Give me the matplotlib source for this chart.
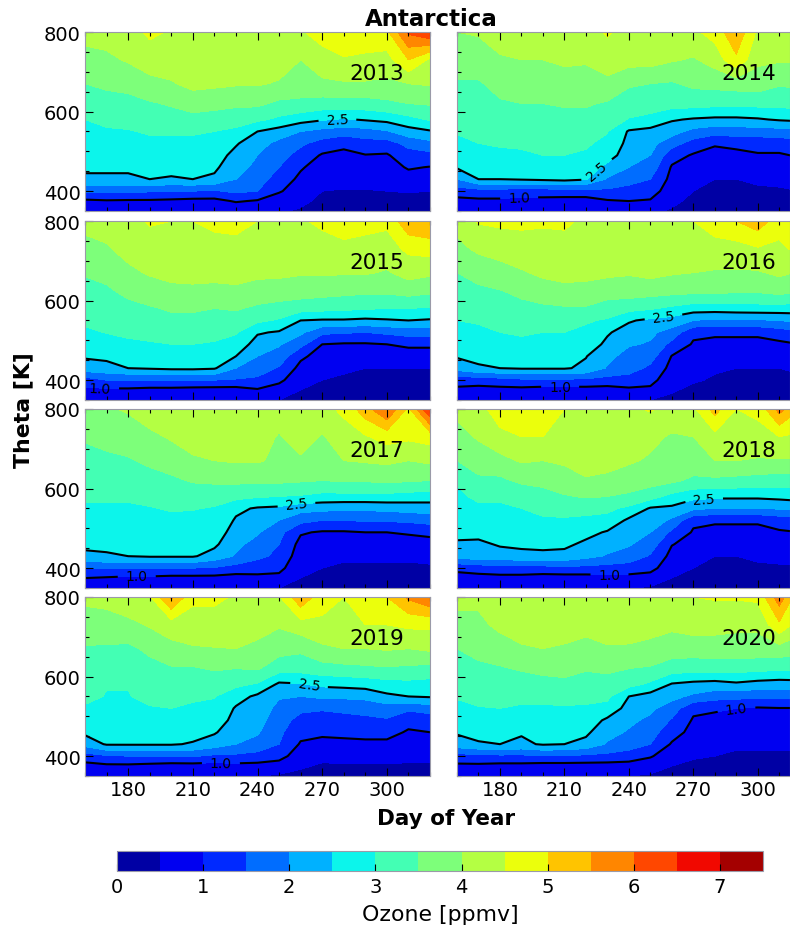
import numpy as np
import matplotlib
matplotlib.use("Agg")
import matplotlib.pyplot as plt
from matplotlib.ticker import MultipleLocator

days = [160, 170, 180, 190, 200, 210, 220, 230, 240, 250, 260, 270, 280, 290, 300, 310, 320]
theta = [350, 375, 400, 430, 460, 490, 520, 550, 580, 620, 670, 730, 800]
years = [2013, 2014, 2015, 2016, 2017, 2018, 2019, 2020]

# ozone profiles, one line per day, bottom to top in theta
oz_2013 = [
    [0.7, 0.9, 1.6, 2.4, 2.6, 2.7, 2.8, 2.9, 3.0, 3.25, 3.5, 3.8, 4.2],
    [0.7, 0.95, 1.6, 2.4, 2.6, 2.7, 2.8, 2.95, 3.1, 3.3, 3.6, 3.9, 4.2],
    [0.7, 0.93, 1.6, 2.4, 2.6, 2.7, 2.85, 2.97, 3.15, 3.35, 3.65, 4.05, 4.3],
    [0.7, 0.93, 1.55, 2.5, 2.65, 2.75, 2.9, 3.05, 3.25, 3.45, 3.85, 4.25, 4.6],
    [0.65, 0.9, 1.5, 2.45, 2.65, 2.75, 2.9, 3.05, 3.3, 3.55, 3.95, 4.3, 4.45],
    [0.6, 0.85, 1.5, 2.5, 2.65, 2.75, 2.9, 3.05, 3.35, 3.7, 4.15, 4.3, 4.4],
    [0.6, 0.85, 1.45, 2.4, 2.6, 2.72, 2.87, 3.0, 3.3, 3.65, 4.1, 4.3, 4.4],
    [0.6, 1.05, 1.6, 2.0, 2.15, 2.35, 2.55, 2.9, 3.2, 3.6, 4.05, 4.3, 4.4],
    [0.6, 0.95, 1.5, 1.75, 1.9, 2.0, 2.2, 2.5, 3.1, 3.6, 4.05, 4.3, 4.4],
    [0.55, 0.75, 1.05, 1.25, 1.5, 1.7, 1.85, 2.3, 2.9, 3.4, 3.95, 4.25, 4.4],
    [0.45, 0.6, 0.75, 0.9, 1.05, 1.3, 1.6, 2.0, 2.7, 3.4, 3.75, 4.0, 4.45],
    [0.3, 0.4, 0.5, 0.65, 0.8, 0.95, 1.3, 1.85, 2.55, 3.3, 3.9, 4.3, 4.7],
    [0.3, 0.4, 0.48, 0.6, 0.75, 0.9, 1.1, 1.75, 2.45, 3.3, 3.95, 4.45, 4.9],
    [0.3, 0.4, 0.48, 0.62, 0.8, 0.98, 1.3, 1.8, 2.55, 3.3, 3.95, 4.4, 4.8],
    [0.3, 0.4, 0.5, 0.65, 0.8, 0.95, 1.3, 1.95, 2.65, 3.4, 3.9, 4.3, 4.9],
    [0.3, 0.4, 0.52, 0.8, 1.05, 1.3, 1.65, 2.3, 2.85, 3.5, 4.0, 5.0, 6.1],
    [0.3, 0.4, 0.5, 0.75, 0.98, 1.35, 1.85, 2.45, 3.05, 3.55, 4.05, 4.4, 6.5],
]
oz_2014 = [
    [0.65, 0.85, 1.25, 2.0, 2.55, 2.7, 2.85, 3.05, 3.15, 3.25, 3.45, 3.75, 4.0],
    [0.6, 0.9, 1.3, 2.5, 2.65, 2.8, 3.0, 3.1, 3.2, 3.3, 3.45, 3.75, 4.05],
    [0.6, 0.9, 1.3, 2.5, 2.7, 2.9, 3.05, 3.15, 3.25, 3.45, 3.65, 3.95, 4.2],
    [0.55, 0.85, 1.25, 2.55, 2.75, 2.95, 3.05, 3.2, 3.3, 3.5, 3.7, 4.0, 4.5],
    [0.55, 0.85, 1.25, 2.6, 2.8, 3.0, 3.1, 3.2, 3.3, 3.5, 3.7, 4.0, 4.3],
    [0.5, 0.8, 1.3, 2.65, 2.85, 3.0, 3.1, 3.2, 3.35, 3.55, 3.75, 4.1, 4.3],
    [0.5, 0.8, 1.3, 2.55, 2.8, 2.95, 3.05, 3.2, 3.35, 3.55, 3.8, 4.05, 4.3],
    [0.55, 0.95, 1.4, 1.95, 2.35, 2.75, 2.9, 3.02, 3.25, 3.45, 3.85, 4.3, 4.55],
    [0.6, 1.0, 1.3, 1.7, 2.0, 2.2, 2.35, 2.45, 2.97, 3.3, 3.55, 4.2, 4.35],
    [0.6, 0.95, 1.25, 1.5, 1.8, 2.0, 2.15, 2.35, 2.85, 3.25, 3.5, 4.2, 4.3],
    [0.45, 0.6, 0.7, 0.85, 0.95, 1.2, 1.7, 2.2, 2.55, 3.2, 3.45, 4.05, 4.5],
    [0.3, 0.4, 0.5, 0.55, 0.75, 0.95, 1.3, 1.85, 2.45, 3.2, 3.6, 3.95, 4.4],
    [0.3, 0.4, 0.45, 0.5, 0.7, 0.85, 1.05, 1.7, 2.4, 3.15, 3.65, 4.2, 4.7],
    [0.3, 0.4, 0.45, 0.5, 0.7, 0.85, 1.15, 1.75, 2.4, 3.15, 3.7, 4.9, 5.4],
    [0.3, 0.4, 0.45, 0.55, 0.75, 0.95, 1.2, 1.75, 2.45, 3.15, 3.75, 4.1, 4.4],
    [0.3, 0.4, 0.45, 0.6, 0.75, 0.95, 1.2, 1.8, 2.55, 3.15, 3.55, 4.05, 4.5],
    [0.3, 0.4, 0.5, 0.65, 0.85, 1.05, 1.35, 1.9, 2.6, 3.2, 3.6, 4.05, 4.5],
]
oz_2015 = [
    [0.6, 0.9, 1.25, 2.3, 2.55, 2.7, 2.9, 3.1, 3.2, 3.3, 3.55, 3.85, 4.15],
    [0.6, 0.9, 1.5, 2.35, 2.6, 2.8, 3.02, 3.12, 3.25, 3.4, 3.65, 3.95, 4.2],
    [0.55, 0.9, 1.5, 2.5, 2.7, 2.9, 3.1, 3.2, 3.35, 3.6, 3.9, 4.15, 4.35],
    [0.55, 0.85, 1.5, 2.55, 2.75, 2.95, 3.15, 3.3, 3.45, 3.75, 4.05, 4.3, 4.55],
    [0.55, 0.85, 1.5, 2.6, 2.8, 3.0, 3.2, 3.4, 3.55, 3.85, 4.15, 4.35, 4.5],
    [0.5, 0.8, 1.55, 2.6, 2.8, 3.0, 3.2, 3.4, 3.55, 3.85, 4.2, 4.35, 4.5],
    [0.5, 0.8, 1.5, 2.55, 2.75, 2.95, 3.15, 3.35, 3.5, 3.85, 4.15, 4.35, 4.6],
    [0.5, 0.8, 1.45, 2.0, 2.5, 2.8, 3.05, 3.3, 3.55, 3.9, 4.15, 4.4, 4.6],
    [0.55, 0.95, 1.4, 1.75, 2.0, 2.3, 2.55, 3.1, 3.4, 3.8, 4.1, 4.35, 4.5],
    [0.5, 0.8, 1.1, 1.45, 1.8, 2.05, 2.45, 2.95, 3.3, 3.75, 4.1, 4.3, 4.45],
    [0.4, 0.5, 0.7, 0.85, 1.1, 1.65, 2.1, 2.5, 3.2, 3.7, 4.05, 4.3, 4.45],
    [0.35, 0.4, 0.5, 0.65, 0.8, 1.0, 1.6, 2.45, 3.15, 3.65, 4.05, 4.3, 4.6],
    [0.3, 0.35, 0.45, 0.55, 0.7, 0.95, 1.55, 2.45, 3.1, 3.6, 4.05, 4.4, 4.7],
    [0.3, 0.35, 0.4, 0.5, 0.7, 0.95, 1.5, 2.4, 3.05, 3.55, 4.05, 4.35, 4.65],
    [0.3, 0.35, 0.4, 0.5, 0.7, 1.0, 1.6, 2.45, 3.0, 3.55, 3.95, 4.3, 4.6],
    [0.3, 0.35, 0.4, 0.5, 0.75, 1.1, 1.7, 2.5, 3.0, 3.65, 4.2, 4.6, 5.4],
    [0.3, 0.35, 0.4, 0.5, 0.75, 1.1, 1.7, 2.45, 2.95, 3.55, 4.1, 4.7, 5.5],
]
oz_2016 = [
    [0.65, 0.9, 1.2, 2.2, 2.55, 2.7, 2.85, 3.0, 3.1, 3.3, 3.5, 3.85, 4.2],
    [0.6, 0.85, 1.2, 2.45, 2.6, 2.75, 2.9, 3.05, 3.2, 3.4, 3.65, 4.1, 4.55],
    [0.6, 0.85, 1.3, 2.5, 2.7, 2.85, 3.0, 3.15, 3.25, 3.45, 3.8, 4.2, 4.6],
    [0.55, 0.85, 1.4, 2.55, 2.75, 2.9, 3.05, 3.2, 3.35, 3.6, 3.95, 4.3, 4.6],
    [0.55, 0.8, 1.4, 2.55, 2.75, 2.9, 3.0, 3.15, 3.4, 3.75, 4.1, 4.35, 4.55],
    [0.5, 0.8, 1.4, 2.55, 2.75, 2.9, 3.0, 3.15, 3.45, 3.8, 4.2, 4.4, 4.55],
    [0.5, 0.8, 1.4, 2.4, 2.52, 2.75, 2.9, 3.05, 3.45, 3.8, 4.15, 4.35, 4.45],
    [0.5, 0.8, 1.3, 1.95, 2.15, 2.4, 2.55, 2.95, 3.25, 3.7, 4.1, 4.3, 4.45],
    [0.55, 0.9, 1.3, 1.7, 1.8, 2.05, 2.3, 2.55, 3.15, 3.7, 4.05, 4.3, 4.4],
    [0.5, 0.9, 1.15, 1.4, 1.7, 1.95, 2.1, 2.4, 3.05, 3.65, 4.15, 4.35, 4.45],
    [0.4, 0.55, 0.7, 0.85, 0.98, 1.35, 1.8, 2.3, 2.9, 3.6, 4.05, 4.4, 4.5],
    [0.35, 0.4, 0.55, 0.7, 0.8, 0.95, 1.1, 2.0, 2.75, 3.55, 4.0, 4.4, 4.5],
    [0.3, 0.35, 0.45, 0.55, 0.7, 0.85, 1.1, 1.9, 2.75, 3.55, 3.95, 4.35, 4.7],
    [0.3, 0.35, 0.4, 0.5, 0.65, 0.85, 1.1, 1.9, 2.8, 3.5, 3.95, 4.3, 5.0],
    [0.3, 0.35, 0.4, 0.5, 0.65, 0.85, 1.1, 1.95, 2.8, 3.5, 3.95, 4.45, 5.3],
    [0.3, 0.35, 0.4, 0.5, 0.7, 0.9, 1.25, 2.0, 2.8, 3.6, 4.1, 4.4, 4.7],
    [0.3, 0.35, 0.45, 0.55, 0.8, 1.0, 1.4, 2.15, 2.75, 3.45, 3.95, 4.65, 5.0],
]
oz_2017 = [
    [0.7, 1.0, 1.5, 2.4, 2.6, 2.75, 2.85, 2.95, 3.05, 3.15, 3.35, 3.55, 3.9],
    [0.6, 0.95, 1.55, 2.45, 2.6, 2.75, 2.85, 2.95, 3.05, 3.2, 3.4, 3.65, 3.95],
    [0.6, 0.9, 1.5, 2.5, 2.65, 2.75, 2.85, 2.95, 3.05, 3.2, 3.45, 3.75, 4.05],
    [0.55, 0.9, 1.5, 2.55, 2.7, 2.8, 2.9, 2.98, 3.1, 3.3, 3.6, 3.9, 4.25],
    [0.55, 0.85, 1.5, 2.55, 2.7, 2.8, 2.92, 3.03, 3.15, 3.4, 3.75, 4.05, 4.3],
    [0.5, 0.85, 1.5, 2.55, 2.7, 2.8, 2.9, 3.02, 3.2, 3.55, 3.95, 4.15, 4.35],
    [0.5, 0.85, 1.45, 2.3, 2.6, 2.75, 2.85, 2.97, 3.15, 3.6, 4.0, 4.2, 4.35],
    [0.5, 0.8, 1.3, 1.95, 2.1, 2.3, 2.45, 2.6, 3.15, 3.6, 4.05, 4.25, 4.35],
    [0.5, 0.85, 1.25, 1.6, 1.85, 2.05, 2.25, 2.45, 3.05, 3.6, 4.05, 4.25, 4.35],
    [0.5, 0.85, 1.15, 1.4, 1.5, 1.65, 2.0, 2.4, 3.0, 3.6, 3.9, 3.95, 4.3],
    [0.4, 0.5, 0.6, 0.72, 0.85, 1.05, 1.65, 2.2, 2.95, 3.55, 3.9, 4.3, 4.4],
    [0.35, 0.4, 0.5, 0.65, 0.8, 0.95, 1.5, 2.15, 2.85, 3.5, 3.75, 3.95, 4.35],
    [0.3, 0.35, 0.45, 0.55, 0.7, 0.95, 1.5, 2.1, 2.85, 3.55, 4.0, 4.3, 4.6],
    [0.3, 0.35, 0.45, 0.55, 0.75, 1.0, 1.55, 2.1, 2.85, 3.55, 4.05, 4.45, 5.3],
    [0.3, 0.35, 0.45, 0.55, 0.75, 1.0, 1.55, 2.15, 2.85, 3.6, 4.1, 4.7, 6.0],
    [0.3, 0.35, 0.45, 0.55, 0.8, 1.05, 1.6, 2.2, 2.8, 3.55, 4.0, 4.6, 4.9],
    [0.3, 0.35, 0.45, 0.6, 0.85, 1.1, 1.7, 2.25, 2.75, 3.5, 4.1, 4.7, 6.5],
]
oz_2018 = [
    [0.65, 0.85, 1.1, 2.2, 2.45, 2.6, 2.75, 2.85, 2.95, 3.02, 3.5, 3.85, 4.1],
    [0.6, 0.85, 1.2, 2.3, 2.4, 2.65, 2.8, 2.95, 3.05, 3.4, 3.75, 4.05, 4.3],
    [0.55, 0.85, 1.3, 2.3, 2.55, 2.7, 2.85, 2.95, 3.05, 3.4, 3.85, 4.35, 4.8],
    [0.55, 0.85, 1.3, 2.35, 2.6, 2.75, 2.9, 3.0, 3.15, 3.6, 4.05, 4.5, 4.85],
    [0.55, 0.8, 1.3, 2.4, 2.6, 2.8, 2.95, 3.1, 3.3, 3.65, 4.0, 4.5, 4.85],
    [0.5, 0.8, 1.35, 2.35, 2.6, 2.75, 2.95, 3.15, 3.45, 3.85, 4.05, 4.3, 4.5],
    [0.5, 0.8, 1.35, 2.15, 2.4, 2.65, 2.9, 3.15, 3.55, 3.95, 4.2, 4.35, 4.45],
    [0.5, 0.85, 1.3, 1.95, 2.2, 2.45, 2.85, 3.1, 3.5, 3.9, 4.15, 4.35, 4.45],
    [0.5, 0.85, 1.25, 1.8, 2.05, 2.25, 2.4, 2.9, 3.4, 3.8, 4.05, 4.3, 4.4],
    [0.45, 0.8, 1.15, 1.45, 1.75, 2.0, 2.3, 2.45, 3.2, 3.7, 3.95, 4.1, 4.55],
    [0.4, 0.5, 0.7, 0.85, 1.02, 1.4, 1.9, 2.4, 2.85, 3.6, 3.85, 3.95, 4.3],
    [0.35, 0.4, 0.5, 0.7, 0.85, 0.95, 1.1, 2.1, 2.65, 3.4, 3.8, 4.0, 4.4],
    [0.3, 0.35, 0.45, 0.5, 0.8, 0.9, 1.05, 2.0, 2.6, 3.4, 4.0, 4.35, 5.2],
    [0.3, 0.35, 0.45, 0.5, 0.7, 0.9, 1.05, 2.0, 2.6, 3.35, 4.0, 4.35, 4.5],
    [0.3, 0.35, 0.45, 0.55, 0.7, 0.9, 1.05, 2.0, 2.6, 3.3, 3.95, 4.35, 4.6],
    [0.3, 0.35, 0.45, 0.6, 0.75, 0.95, 1.2, 2.05, 2.65, 3.25, 3.95, 4.5, 5.7],
    [0.3, 0.35, 0.45, 0.6, 0.8, 1.0, 1.3, 2.15, 2.7, 3.2, 3.95, 4.4, 5.0],
]
oz_2019 = [
    [0.55, 0.85, 1.25, 2.2, 2.6, 2.75, 2.95, 3.1, 3.2, 3.3, 3.45, 3.8, 4.1],
    [0.55, 0.9, 1.45, 2.55, 2.7, 2.8, 2.9, 2.98, 3.02, 3.2, 3.45, 3.75, 4.2],
    [0.5, 0.9, 1.5, 2.55, 2.75, 2.85, 2.92, 2.98, 3.02, 3.2, 3.4, 3.85, 4.4],
    [0.5, 0.85, 1.5, 2.55, 2.75, 2.85, 2.97, 3.1, 3.2, 3.35, 3.6, 4.05, 4.45],
    [0.5, 0.8, 1.5, 2.55, 2.75, 2.9, 3.0, 3.15, 3.3, 3.45, 3.85, 4.25, 5.6],
    [0.5, 0.8, 1.55, 2.45, 2.7, 2.85, 2.95, 3.05, 3.25, 3.45, 3.95, 4.3, 4.6],
    [0.5, 0.8, 1.4, 2.25, 2.55, 2.75, 2.9, 3.02, 3.2, 3.55, 3.98, 4.3, 4.6],
    [0.5, 0.85, 1.4, 2.0, 2.2, 2.35, 2.45, 2.7, 3.1, 3.5, 4.0, 4.35, 4.45],
    [0.5, 0.85, 1.3, 1.85, 2.05, 2.2, 2.3, 2.4, 2.95, 3.55, 3.85, 4.25, 4.5],
    [0.45, 0.75, 1.2, 1.5, 1.6, 1.7, 1.85, 2.05, 2.4, 3.2, 3.7, 4.05, 4.45],
    [0.4, 0.55, 0.7, 0.95, 1.15, 1.35, 1.6, 2.0, 2.45, 3.2, 3.6, 4.3, 5.4],
    [0.35, 0.45, 0.6, 0.85, 1.1, 1.3, 1.55, 2.1, 2.6, 3.3, 3.9, 4.4, 4.7],
    [0.35, 0.45, 0.65, 0.85, 1.15, 1.35, 1.6, 2.1, 2.65, 3.35, 4.0, 4.4, 4.5],
    [0.35, 0.45, 0.65, 0.9, 1.15, 1.4, 1.65, 2.15, 2.7, 3.4, 4.0, 4.5, 4.7],
    [0.35, 0.45, 0.65, 0.9, 1.15, 1.45, 1.75, 2.4, 2.8, 3.45, 4.05, 4.5, 5.0],
    [0.35, 0.45, 0.6, 0.8, 0.95, 1.15, 1.6, 2.5, 2.85, 3.4, 4.0, 4.6, 5.6],
    [0.35, 0.45, 0.6, 0.8, 1.0, 1.2, 1.75, 2.55, 2.8, 3.35, 4.1, 4.6, 6.0],
]
oz_2020 = [
    [0.7, 0.9, 1.3, 2.3, 2.55, 2.7, 2.85, 3.05, 3.15, 3.25, 3.5, 3.9, 4.1],
    [0.6, 0.9, 1.35, 2.45, 2.65, 2.8, 2.98, 3.1, 3.2, 3.4, 3.65, 3.9, 4.1],
    [0.55, 0.85, 1.4, 2.5, 2.7, 2.85, 3.0, 3.1, 3.2, 3.45, 3.8, 4.1, 4.3],
    [0.55, 0.85, 1.4, 2.4, 2.55, 2.8, 2.95, 3.1, 3.25, 3.55, 3.95, 4.2, 4.35],
    [0.5, 0.8, 1.45, 2.55, 2.7, 2.85, 2.95, 3.1, 3.3, 3.65, 4.0, 4.25, 4.4],
    [0.5, 0.8, 1.45, 2.5, 2.7, 2.85, 2.97, 3.1, 3.35, 3.7, 3.95, 4.2, 4.45],
    [0.5, 0.8, 1.4, 2.35, 2.6, 2.8, 2.95, 3.1, 3.25, 3.55, 3.85, 4.15, 4.45],
    [0.5, 0.8, 1.35, 1.95, 2.15, 2.4, 2.85, 3.1, 3.3, 3.6, 3.95, 4.25, 4.4],
    [0.5, 0.8, 1.25, 1.75, 1.95, 2.1, 2.3, 2.5, 3.15, 3.5, 3.95, 4.2, 4.4],
    [0.45, 0.7, 1.05, 1.5, 1.7, 1.9, 2.1, 2.3, 2.9, 3.45, 3.85, 4.2, 4.4],
    [0.4, 0.5, 0.7, 0.95, 1.2, 1.45, 1.75, 2.15, 2.45, 3.25, 3.75, 4.1, 4.4],
    [0.35, 0.4, 0.55, 0.75, 0.85, 0.95, 1.1, 1.9, 2.35, 3.2, 3.75, 4.2, 4.5],
    [0.3, 0.35, 0.5, 0.6, 0.75, 0.9, 1.05, 1.7, 2.3, 3.2, 3.8, 4.15, 4.55],
    [0.3, 0.35, 0.45, 0.55, 0.7, 0.85, 1.0, 1.65, 2.4, 3.2, 3.8, 4.1, 4.55],
    [0.3, 0.35, 0.45, 0.55, 0.65, 0.8, 0.95, 1.6, 2.3, 3.15, 3.8, 4.1, 4.6],
    [0.3, 0.35, 0.45, 0.55, 0.7, 0.85, 0.98, 1.6, 2.25, 3.1, 3.8, 4.9, 5.8],
    [0.3, 0.35, 0.45, 0.55, 0.7, 0.85, 0.98, 1.6, 2.3, 3.05, 3.75, 4.2, 4.5],
]
ozone = [oz_2013, oz_2014, oz_2015, oz_2016, oz_2017, oz_2018, oz_2019, oz_2020]

# where the contour labels sit: (day, theta)
labels = [
    [(277, 585)],
    [(225, 452), (189, 377)],
    [(167, 381)],
    [(256, 565), (208, 372)],
    [(258, 563), (184, 375)],
    [(275, 573), (231, 377)],
    [(264, 582), (223, 377)],
    [(290, 525)],
]

W, H = 790, 928
fill_levels = np.arange(0, 8, 0.5)


def px_axes(fig, x0, x1, y0, y1):
    return fig.add_axes([x0 / W, 1 - y1 / H, (x1 - x0) / W, (y1 - y0) / H])


fig = plt.figure(figsize=(7.9, 9.28), dpi=100)
rows = [(33, 212), (222, 401), (410, 589), (598, 777)]

for i, year in enumerate(years):
    row, col = i // 2, i % 2
    y0, y1 = rows[row]
    if col == 0:
        ax = px_axes(fig, 85, 430, y0, y1)
    else:
        ax = px_axes(fig, 457, 790, y0, y1)
    z = np.array(ozone[i]).T
    cf = ax.contourf(days, theta, z, levels=fill_levels, cmap="jet", vmin=0, vmax=7.5)
    cs = ax.contour(days, theta, z, levels=[1.0, 2.5], colors="k", linewidths=1.5)
    ax.set_xlim(160, 320 if col == 0 else 315)
    ax.set_ylim(350, 800)
    ax.clabel(cs, manual=labels[i], fmt="%.1f", fontsize=10, inline_spacing=8)
    ax.xaxis.set_major_locator(MultipleLocator(30))
    ax.xaxis.set_minor_locator(MultipleLocator(10))
    ax.yaxis.set_major_locator(MultipleLocator(200))
    ax.yaxis.set_minor_locator(MultipleLocator(50))
    ax.tick_params(which="both", direction="in", top=True, bottom=True, left=True, right=False,
                   labelsize=14, pad=3)
    ax.tick_params(which="major", length=6, width=0.8)
    ax.tick_params(which="minor", length=3, width=0.8)
    ax.tick_params(labelbottom=row == 3, labelleft=col == 0)
    for s in ax.spines.values():
        s.set_color("#9a9aa8")
    ax.text(0.846 if col == 0 else 0.877, 0.77, str(year), transform=ax.transAxes,
            ha="center", va="center", fontsize=15.5)

fig.text(431 / W, 1 - 20 / H, "Antarctica", ha="center", va="center", fontsize=16.5, fontweight="bold")
fig.text(23 / W, 1 - 410 / H, "Theta [K]", ha="center", va="center", rotation=90,
         fontsize=15.8, fontweight="bold")
fig.text(446 / W, 1 - 819 / H, "Day of Year", ha="center", va="center", fontsize=15.5, fontweight="bold")

cax = px_axes(fig, 117, 763, 852, 872)
cb = fig.colorbar(cf, cax=cax, orientation="horizontal", ticks=range(8))
cb.ax.tick_params(direction="in", length=5, width=0.8, labelsize=14, pad=4)
cb.outline.set_edgecolor("#9a9aa8")
cb.set_label("Ozone [ppmv]", fontsize=15.8, labelpad=6)

fig.savefig("out.png", dpi=100)
